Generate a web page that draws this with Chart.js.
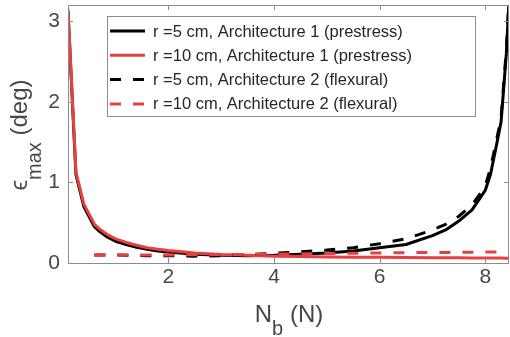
<!DOCTYPE html>
<html>
<head>
  <title>epsilon max vs Nb</title>
  <script src="https://cdn.jsdelivr.net/npm/chart.js@4/dist/chart.umd.min.js"></script>
  <style>
    body { margin: 0; background: #fff; }
    canvas { display: block; }
  </style>
</head>
<body>
  <canvas id="chart" width="510" height="337"></canvas>
  <script>
    // N_b values (N) shared by all series
    var nb = [0.1, 0.25, 0.4, 0.6, 0.7, 0.85, 1.0, 1.2, 1.4, 1.6, 1.8, 2.0, 2.5, 3.0, 3.5, 4.0,
              4.5, 5.0, 5.5, 6.0, 6.5, 7.0, 7.25, 7.5, 7.75, 8.0, 8.1, 8.2, 8.3, 8.4, 8.5];

    // eps_max (deg)
    var r5Arch1 = [3.12, 1.10, 0.70, 0.45, 0.39, 0.32, 0.27, 0.23, 0.195, 0.17, 0.15, 0.135, 0.11, 0.095, 0.09, 0.095,
                   0.11, 0.125, 0.15, 0.19, 0.23, 0.34, 0.41, 0.52, 0.66, 0.90, 1.10, 1.42, 1.75, 2.6, 3.9];
    var r10Arch1 = [3.15, 1.13, 0.73, 0.48, 0.42, 0.35, 0.30, 0.255, 0.22, 0.19, 0.17, 0.155, 0.125, 0.105, 0.095, 0.085,
                    0.08, 0.075, 0.072, 0.07, 0.068, 0.066, 0.065, 0.064, 0.063, 0.062, 0.062, 0.061, 0.061, 0.06, 0.06];
    var r5Arch2 = [null, null, null, 0.10, 0.10, 0.10, 0.10, 0.095, 0.095, 0.09, 0.09, 0.09, 0.085, 0.09, 0.105, 0.12,
                   0.14, 0.16, 0.19, 0.24, 0.30, 0.41, 0.48, 0.58, 0.72, 0.95, 1.18, 1.48, 1.8, 2.65, 3.9];
    var r10Arch2 = [null, null, null, 0.10, 0.10, 0.10, 0.10, 0.10, 0.10, 0.10, 0.10, 0.10, 0.102, 0.105, 0.107, 0.11,
                    0.113, 0.117, 0.121, 0.125, 0.128, 0.13, 0.131, 0.132, 0.134, 0.135, 0.135, 0.136, 0.136, 0.137, 0.137];

    var labels = ['r =5 cm, Architecture 1 (prestress)',
                  'r =10 cm, Architecture 1 (prestress)',
                  'r =5 cm, Architecture 2 (flexural)',
                  'r =10 cm, Architecture 2 (flexural)'];

    var xTicks = [2, 4, 6, 8];
    var yTicks = [0, 1, 2, 3];

    var RED = 'rgb(232,64,64)';
    var BLACK = '#000000';
    var AXIS = '#8c8c8c';
    var TEXT = '#474747';
    var FONT = '"Liberation Sans", Helvetica, Arial, sans-serif';
    var DASH = [11, 12];

    function pts(ys) {
      return nb.map(function (x, i) { return { x: x, y: ys[i] }; });
    }

    function ds(label, ys, color, dash, order) {
      return {
        label: label,
        data: pts(ys),
        borderColor: color,
        borderWidth: 3,
        borderDash: dash,
        borderCapStyle: 'butt',
        borderJoinStyle: 'round',
        pointRadius: 0,
        fill: false,
        tension: 0,
        order: order
      };
    }

    // box with inward ticks on all four sides
    var boxPlugin = {
      id: 'box',
      afterDraw: function (chart) {
        var a = chart.chartArea, ctx = chart.ctx;
        var xs = chart.scales.x, ys = chart.scales.y;
        ctx.save();
        ctx.strokeStyle = AXIS;
        ctx.lineWidth = 1;
        ctx.beginPath();
        ctx.rect(Math.round(a.left) + 0.5, Math.round(a.top) + 0.5,
                 Math.round(a.right - a.left) - 1, Math.round(a.bottom - a.top));
        xTicks.forEach(function (t) {
          var px = Math.round(xs.getPixelForValue(t)) + 0.5;
          ctx.moveTo(px, a.bottom); ctx.lineTo(px, a.bottom - 5);
          ctx.moveTo(px, a.top); ctx.lineTo(px, a.top + 5);
        });
        yTicks.forEach(function (t) {
          var py = Math.round(ys.getPixelForValue(t)) + 0.5;
          ctx.moveTo(a.left, py); ctx.lineTo(a.left + 5, py);
          ctx.moveTo(a.right, py); ctx.lineTo(a.right - 5, py);
        });
        ctx.stroke();
        ctx.restore();
      }
    };

    // legend box inside the axes, top left
    var legendPlugin = {
      id: 'innerLegend',
      afterDatasetsDraw: function (chart) {
        var ctx = chart.ctx;
        ctx.save();
        ctx.fillStyle = '#fff';
        ctx.fillRect(107.5, 16.5, 368, 100);
        ctx.strokeStyle = AXIS;
        ctx.lineWidth = 1;
        ctx.strokeRect(107.5, 16.5, 368, 100);
        ctx.font = '16.5px ' + FONT;
        ctx.textBaseline = 'middle';
        chart.data.datasets.forEach(function (d, i) {
          var y = 31 + i * 24.3;
          ctx.strokeStyle = d.borderColor;
          ctx.lineWidth = 3;
          ctx.setLineDash(d.borderDash || []);
          ctx.beginPath();
          ctx.moveTo(110, y); ctx.lineTo(145, y);
          ctx.stroke();
          ctx.setLineDash([]);
          ctx.fillStyle = '#262626';
          ctx.fillText(d.label, 153, y + 1);
        });
        ctx.restore();
      }
    };

    // axis titles with subscripts
    function subText(ctx, parts, cx, cy) {
      var total = 0;
      parts.forEach(function (p) {
        ctx.font = p.size + 'px ' + FONT;
        p.w = ctx.measureText(p.t).width;
        total += p.w;
      });
      var x = cx - total / 2;
      parts.forEach(function (p) {
        ctx.font = p.size + 'px ' + FONT;
        ctx.fillText(p.t, x, cy + p.dy);
        x += p.w;
      });
    }

    var titlePlugin = {
      id: 'titles',
      afterDraw: function (chart) {
        var ctx = chart.ctx;
        ctx.save();
        ctx.fillStyle = TEXT;
        ctx.textBaseline = 'alphabetic';
        subText(ctx, [
          { t: 'N', size: 24, dy: 0 },
          { t: 'b', size: 20, dy: 13 },
          { t: ' (N)', size: 24, dy: 0 }
        ], 289, 322);
        ctx.translate(27, 135);
        ctx.rotate(-Math.PI / 2);
        subText(ctx, [
          { t: '\u03F5', size: 24, dy: 0 },
          { t: 'max', size: 20, dy: 14 },
          { t: ' (deg)', size: 24, dy: 0 }
        ], 0, 0);
        ctx.restore();
      }
    };

    function noPad(s) {
      s.paddingTop = 0; s.paddingBottom = 0;
      s.paddingLeft = 0; s.paddingRight = 0;
    }

    new Chart(document.getElementById('chart').getContext('2d'), {
      type: 'line',
      data: {
        datasets: [
          ds(labels[0], r5Arch1, BLACK, [], 4),
          ds(labels[1], r10Arch1, RED, [], 3),
          ds(labels[2], r5Arch2, BLACK, DASH, 2),
          ds(labels[3], r10Arch2, RED, DASH, 1)
        ]
      },
      options: {
        responsive: false,
        animation: false,
        devicePixelRatio: 1,
        layout: { padding: { top: 5, right: 1, left: 0, bottom: 0 } },
        plugins: { legend: { display: false }, tooltip: { enabled: false } },
        scales: {
          x: {
            type: 'linear',
            min: 0.1,
            max: 8.45,
            grid: { display: false, drawTicks: false },
            border: { display: false },
            afterBuildTicks: function (s) { s.ticks = xTicks.map(function (v) { return { value: v }; }); },
            afterFit: function (s) { s.height = 74; noPad(s); },
            ticks: { font: { size: 21, family: FONT }, color: TEXT, padding: 2, maxRotation: 0 }
          },
          y: {
            min: 0,
            max: 3.2,
            grid: { display: false, drawTicks: false },
            border: { display: false },
            afterBuildTicks: function (s) { s.ticks = yTicks.map(function (v) { return { value: v }; }); },
            afterFit: function (s) { s.width = 68; noPad(s); },
            ticks: { font: { size: 21, family: FONT }, color: TEXT, padding: 8 }
          }
        }
      },
      plugins: [boxPlugin, legendPlugin, titlePlugin]
    });
  </script>
</body>
</html>
